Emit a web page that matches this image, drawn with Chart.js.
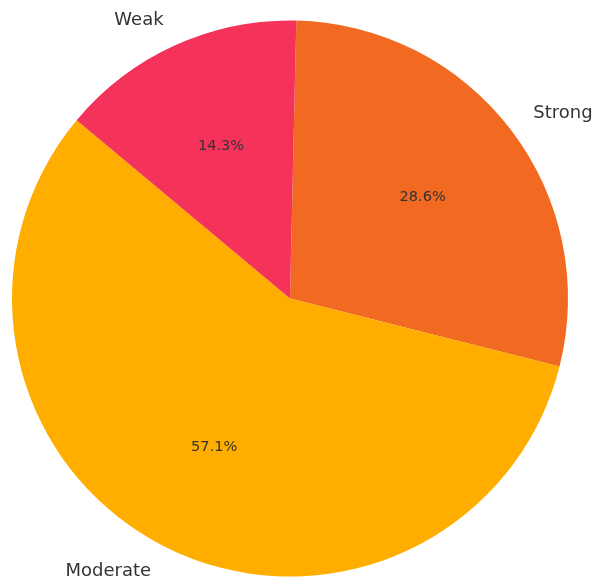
<!DOCTYPE html>
<html>
<head>
<meta charset="utf-8">
<script src="https://cdn.jsdelivr.net/npm/chart.js@4/dist/chart.umd.min.js"></script>
<style>
  html, body { margin: 0; padding: 0; background: #ffffff; }
  #wrap { width: 593px; height: 579px; position: relative; }
</style>
</head>
<body>
<div id="wrap"><canvas id="pie"></canvas></div>
<script>
// Slice categories, counts and colours
const categories = ['Strong', 'Moderate', 'Weak'];
const counts = [2, 4, 1];
const sliceColors = ['#F26A21', '#FFAE00', '#F5325A'];

const total = counts.reduce((a, b) => a + b, 0);

// Draws the category names outside the pie and the percentages inside each slice
const sliceLabels = {
  id: 'sliceLabels',
  afterDatasetsDraw(chart) {
    const ctx = chart.ctx;
    const meta = chart.getDatasetMeta(0);
    ctx.save();
    ctx.fillStyle = '#333333';
    ctx.textBaseline = 'middle';
    meta.data.forEach((arc, i) => {
      const p = arc.getProps(['x', 'y', 'startAngle', 'endAngle', 'outerRadius'], true);
      const mid = (p.startAngle + p.endAngle) / 2;
      const cx = Math.cos(mid), cy = Math.sin(mid);
      // category name at 1.1 radius
      ctx.font = '18px "DejaVu Sans"';
      ctx.textAlign = cx >= 0 ? 'left' : 'right';
      ctx.fillText(categories[i], p.x + cx * p.outerRadius * 1.1, p.y + cy * p.outerRadius * 1.1);
      // percentage at 0.6 radius
      ctx.font = '14.6px "DejaVu Sans"';
      ctx.textAlign = 'center';
      const pct = (counts[i] / total * 100).toFixed(1) + '%';
      ctx.fillText(pct, p.x + cx * p.outerRadius * 0.6, p.y + cy * p.outerRadius * 0.6);
    });
    ctx.restore();
  }
};

new Chart(document.getElementById('pie'), {
  type: 'pie',
  data: {
    labels: categories,
    datasets: [{
      data: counts,
      backgroundColor: sliceColors,
      borderWidth: 0,
      hoverOffset: 0
    }]
  },
  options: {
    responsive: true,
    maintainAspectRatio: false,
    animation: false,
    rotation: 1.3,
    events: [],
    layout: { padding: { top: 20, bottom: 2, left: 12, right: 25 } },
    plugins: {
      legend: { display: false },
      tooltip: { enabled: false }
    }
  },
  plugins: [sliceLabels]
});
</script>
</body>
</html>
